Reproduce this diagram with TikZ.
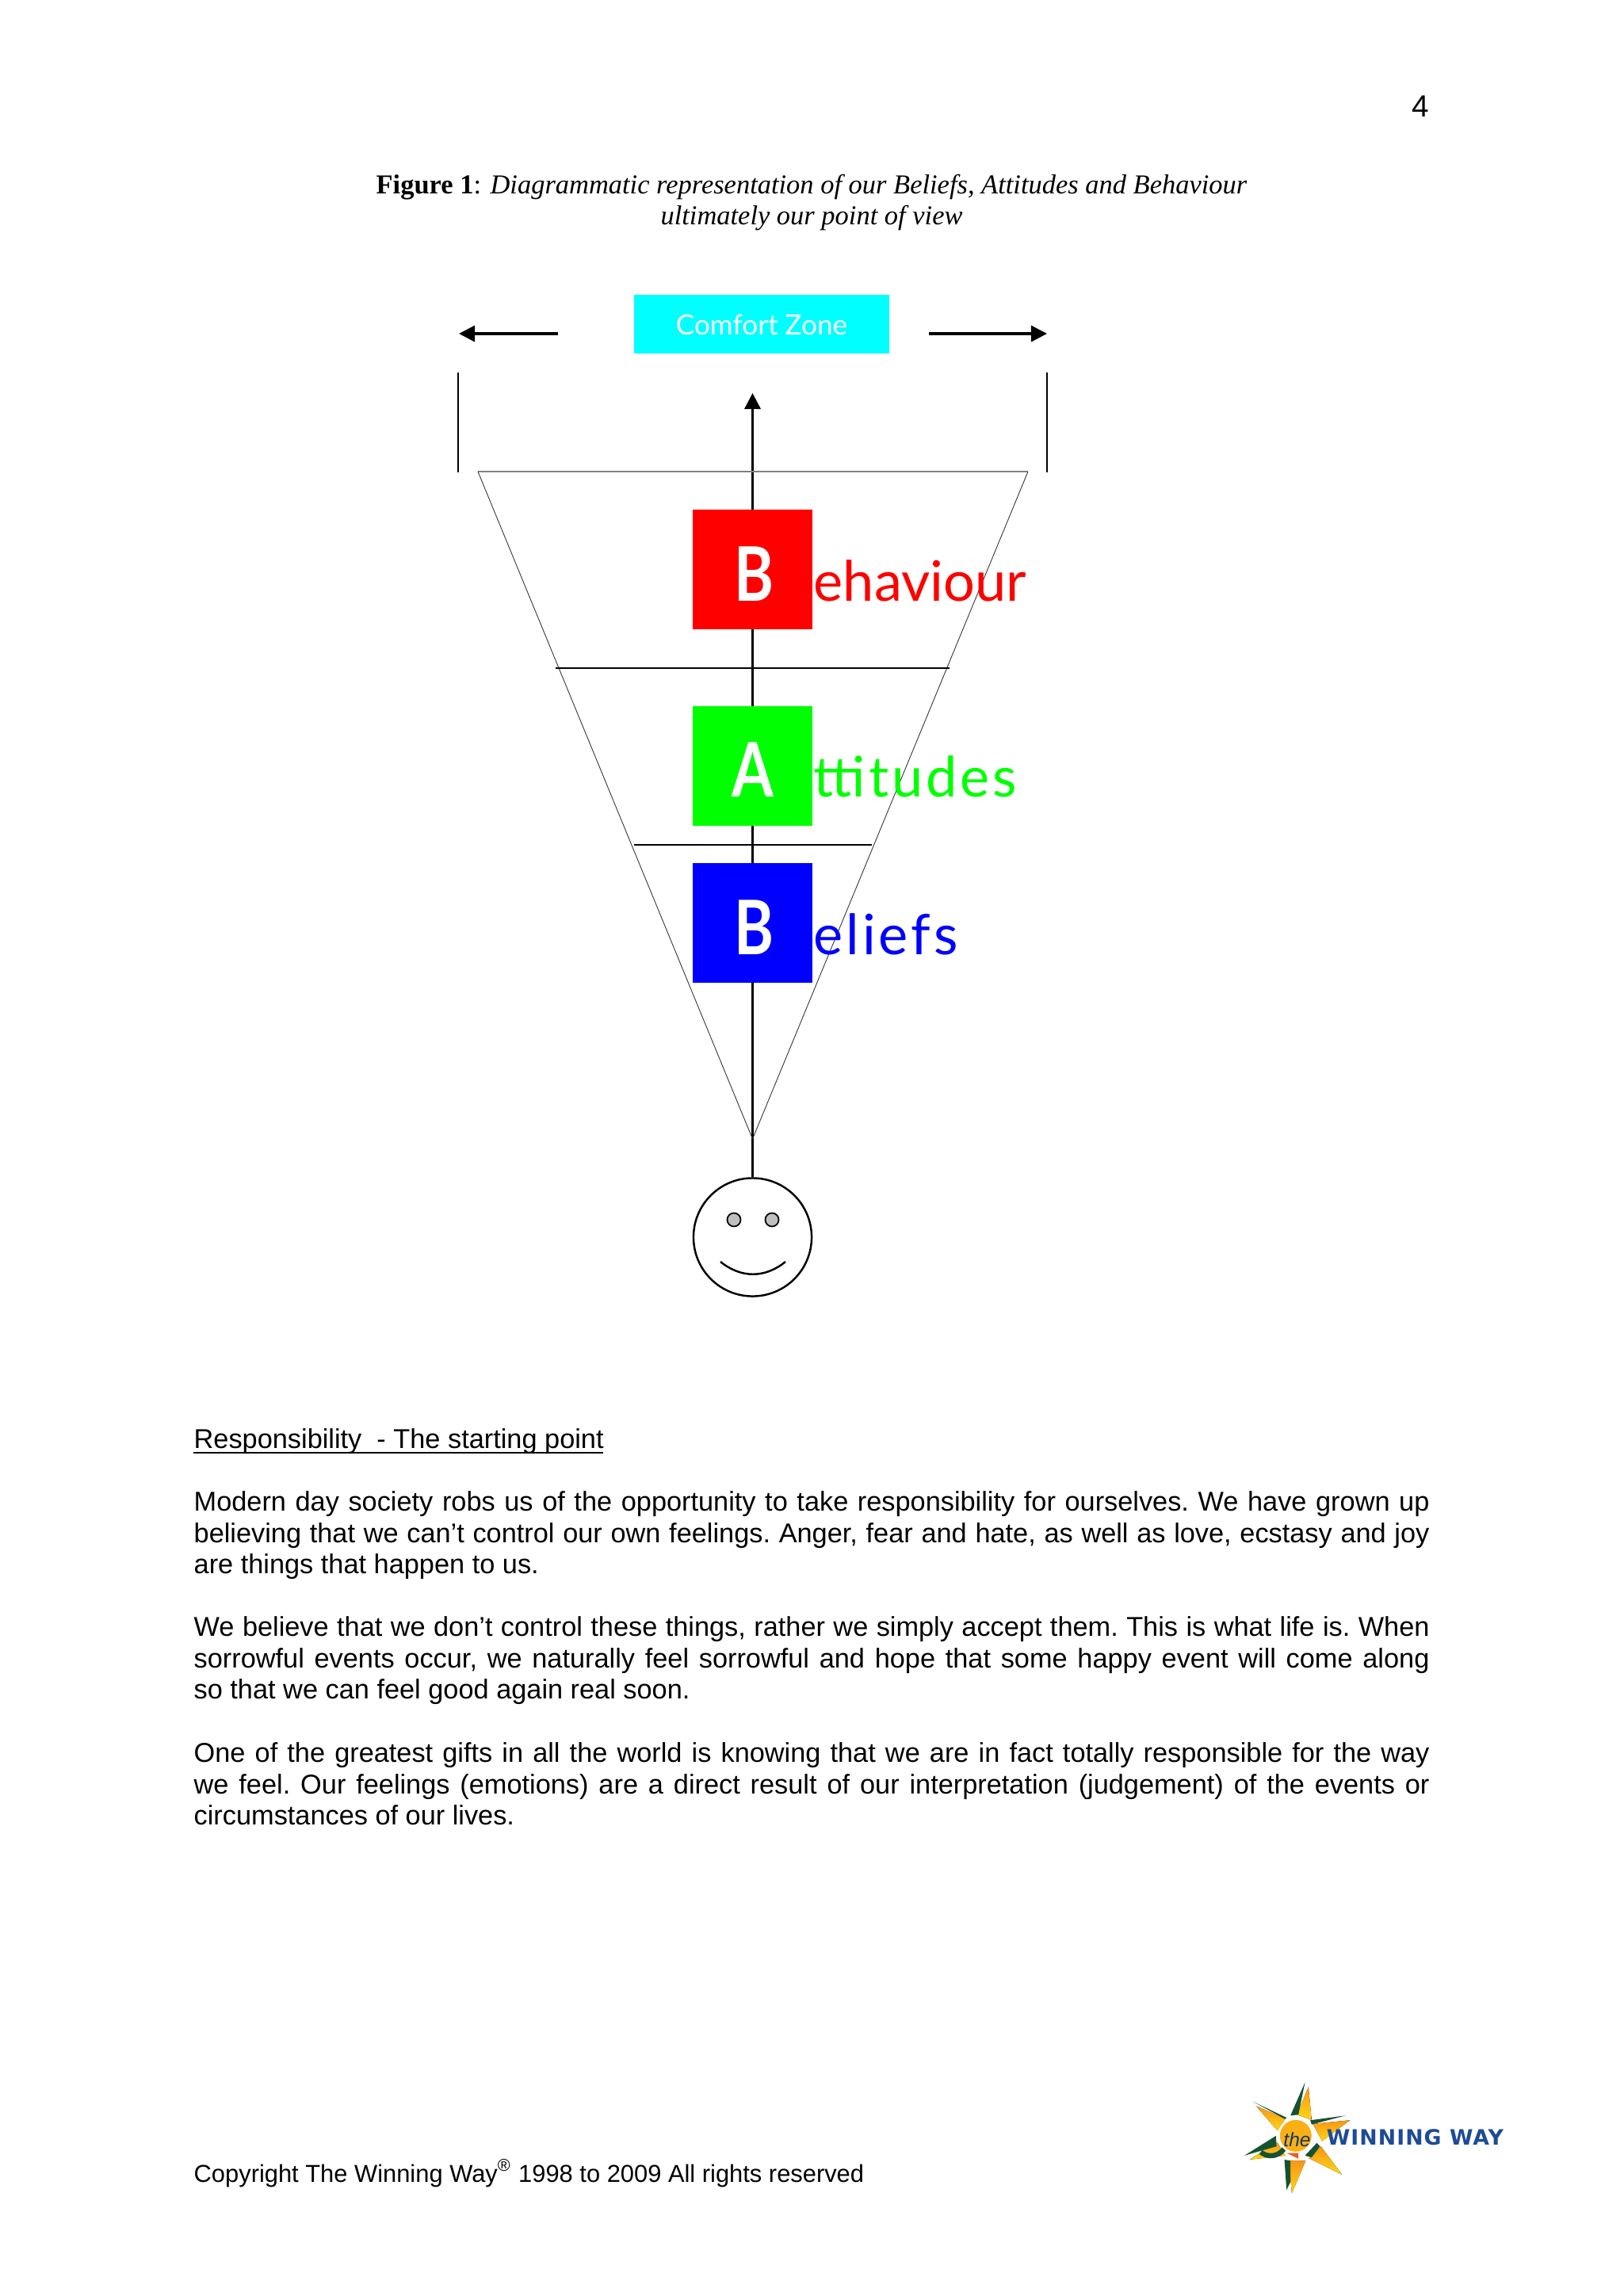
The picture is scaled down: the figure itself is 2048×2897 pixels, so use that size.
\documentclass[tikz,border=0pt]{standalone}
\usepackage{fontspec}
\setmainfont{Liberation Sans}
\newfontfamily\capfont{Liberation Serif}
\newfontfamily\handfont{Lato}
\newfontfamily\boxfont[FakeStretch=0.8]{Lato}
\newfontfamily\spreadfont[LetterSpace=5.5]{Lato}
\newfontfamily\logofont[LetterSpace=4]{DejaVu Sans}
\usetikzlibrary{arrows.meta,positioning}
\definecolor{zonecyan}{RGB}{0,255,255}
\definecolor{behred}{RGB}{255,0,0}
\definecolor{attgreen}{RGB}{0,255,0}
\definecolor{belblue}{RGB}{0,0,255}
\definecolor{logogreen}{RGB}{22,82,48}
\definecolor{logoorange}{RGB}{246,150,20}
\definecolor{logoyellow}{RGB}{255,214,20}
\definecolor{logored}{RGB}{240,90,30}
\definecolor{logoblue}{RGB}{30,75,150}
\tikzset{
  letterbox/.style={minimum width=1.5cm, minimum height=1.51cm, inner sep=0pt},
  lettertext/.style={inner sep=0pt, anchor=base, text=white, font=\boxfont\bfseries\fontsize{27}{27}\selectfont},
  wordtext/.style={inner sep=0pt, anchor=base west, font=\handfont\fontsize{20}{20}\selectfont},
  bodytext/.style={inner sep=0pt, anchor=north west, text width=15.58cm, align=justify, font=\frenchspacing\fontsize{9.76}{11.22}\selectfont},
  linetext/.style={inner sep=0pt, anchor=base west, font=\fontsize{9.76}{11.22}\selectfont},
  captext/.style={inner sep=0pt, anchor=base, font=\capfont\fontsize{9.8}{11}\selectfont},
  bigarrow/.style={-{Triangle[length=5.7pt,width=5.7pt]}, line width=0.95pt},
  rayfill/.style={top color=logoorange, bottom color=logoyellow, draw=none},
  raygreen/.style={fill=logogreen, draw=none}
}
\begin{document}
\begin{tikzpicture}[x=0.01cm, y=-0.01cm]
\useasboundingbox (0,0) rectangle (2048,2897);
% Page number and caption
\node[linetext, anchor=base, font=\fontsize{11}{12}\selectfont] (pagenum) at (1792,148) {4};
\node[captext] (captiona) at (1024,245) {\textbf{Figure 1}: \textit{Diagrammatic representation of our Beliefs, Attitudes and Behaviour}};
\node[captext] (captionb) at (1024,284) {\textit{ultimately our point of view}};
% Comfort zone and side arrows
\path[fill=zonecyan] (800,372) rectangle (1122,446);
\node[inner sep=0pt, text=white, anchor=base, font=\handfont\fontsize{10}{10}\selectfont] (zone) at (961,422) {Comfort Zone};
\coordinate (lefttail) at (704,421);
\coordinate (lefttip) at (579,421);
\coordinate (righttail) at (1172,421);
\coordinate (righttip) at (1321,421);
\draw[bigarrow] (lefttail) -- (lefttip);
\draw[bigarrow] (righttail) -- (righttip);
\coordinate (ticklt) at (578,470);
\coordinate (ticklb) at (578,596);
\coordinate (tickrt) at (1321,470);
\coordinate (tickrb) at (1321,596);
\draw[line width=0.7pt] (ticklt) -- (ticklb);
\draw[line width=0.7pt] (tickrt) -- (tickrb);
% Face
\node[circle, draw, line width=0.7pt, minimum size=1.49cm, inner sep=0pt] (face) at (949.5,1561) {};
\node[circle, draw, line width=0.5pt, fill=lightgray, minimum size=0.17cm, inner sep=0pt] (eyel) at (926,1539) {};
\node[circle, draw, line width=0.5pt, fill=lightgray, minimum size=0.17cm, inner sep=0pt] (eyer) at (974,1539) {};
\coordinate (smilel) at (909,1592);
\coordinate (smiler) at (991,1592);
\draw[line width=0.7pt] (smilel) .. controls (935,1613) and (965,1613) .. (smiler);
% Centre arrow
\coordinate (uptip) at (949.5,496);
\draw[bigarrow] (face.north) -- (uptip);
% Funnel
\coordinate (funnell) at (603,595);
\coordinate (funnelr) at (1297,595);
\coordinate (apex) at (949.5,1437);
\draw[gray, line width=0.4pt] (funnell) -- (funnelr);
\draw[black!80, line width=0.25pt] (funnell) -- (apex) -- (funnelr);
\coordinate (linea) at (701,843);
\coordinate (lineb) at (1198,843);
\coordinate (linec) at (800,1066);
\coordinate (lined) at (1100,1066);
\draw[line width=0.55pt] (linea) -- (lineb);
\draw[line width=0.55pt] (linec) -- (lined);
% Letter boxes
\node[letterbox, fill=behred] (boxb) at (949.5,718.5) {};
\node[letterbox, fill=attgreen] (boxa) at (949.5,966.5) {};
\node[letterbox, fill=belblue] (boxc) at (949.5,1164.5) {};
\node[lettertext] (letterb) at (951,758) {B};
\node[lettertext] (lettera) at (950,1005) {A};
\node[lettertext] (letterc) at (951,1204) {B};
\node[wordtext, text=behred] (wordb) at (1026,758) {ehaviour};
\node[wordtext, text=attgreen, font=\spreadfont\fontsize{20}{20}\selectfont] (worda) at (1026,1005) {t{}titudes};
\node[wordtext, text=belblue, font=\spreadfont\fontsize{20}{20}\selectfont] (wordc) at (1026,1204) {eliefs};
% Body text
\node[linetext] (heading) at (244,1827) {Responsibility\ \ - The starting point};
\coordinate (headl) at (244,1833);
\coordinate (headr) at (761,1833);
\draw[line width=0.65pt] (headl) -- (headr);
\node[bodytext] (para1) at (244,1881) {Modern day society robs us of the opportunity to take responsibility for ourselves. We have grown up believing that we can’t control our own feelings. Anger, fear and hate, as well as love, ecstasy and joy are things that happen to us.};
\node[bodytext] (para2) at (244,2039) {We believe that we don’t control these things, rather we simply accept them. This is what life is. When sorrowful events occur, we naturally feel sorrowful and hope that some happy event will come along\linebreak so that we can feel good again real soon.};
\node[bodytext] (para3) at (244,2198) {One of the greatest gifts in all the world is knowing that we are in fact totally responsible for the way we feel. Our feelings (emotions) are a direct result of our interpretation (judgement) of the events or circumstances of our lives.};
\node[linetext, font=\fontsize{8.78}{10}\selectfont] (copyright) at (244,2753) {Copyright The Winning Way\textsuperscript{®} 1998 to 2009 All rights reserved};
% Logo
\begin{scope}[shift={(1540,2600)}, x=0.00333cm, y=-0.00333cm]
\fill[rayfill] (333,100) -- (290,205) -- (345,225) -- cycle;
\fill[raygreen] (320,82) -- (265,208) -- (295,205) -- cycle;
\fill[rayfill] (135,172) -- (245,220) -- (215,265) -- cycle;
\fill[raygreen] (122,155) -- (250,216) -- (245,222) -- cycle;
\fill[rayfill] (490,226) -- (350,240) -- (385,305) -- cycle;
\fill[raygreen] (475,208) -- (340,226) -- (345,242) -- cycle;
\fill[rayfill] (110,375) -- (215,310) -- (245,360) -- cycle;
\fill[raygreen] (90,360) -- (210,285) -- (212,325) -- cycle;
\fill[rayfill] (460,432) -- (335,370) -- (380,325) -- cycle;
\fill[rayfill] (270,503) -- (260,378) -- (322,380) -- cycle;
\fill[raygreen] (250,490) -- (242,375) -- (265,380) -- (265,460) -- cycle;
\fill[logoorange!60!logoyellow] (285,285) circle (60);
\fill[logored] (250,350) -- (295,350) -- (295,372) -- cycle;
\draw[logogreen, line width=1.8pt] (240,335) arc (215:310:-60);
\fill[logogreen] (320,360) -- (365,312) -- (377,325) -- (345,367) -- cycle;
\node[inner sep=0pt, text=logoblue!70!black, font=\itshape\fontsize{7}{7}\selectfont] (logothe) at (290,298) {the};
\node[inner sep=0pt, anchor=base west, text=logoblue, font=\logofont\bfseries\fontsize{7.6}{8}\selectfont] (logoname) at (400,320) {WINNING WAY};
\end{scope}
\end{tikzpicture}
\end{document}
